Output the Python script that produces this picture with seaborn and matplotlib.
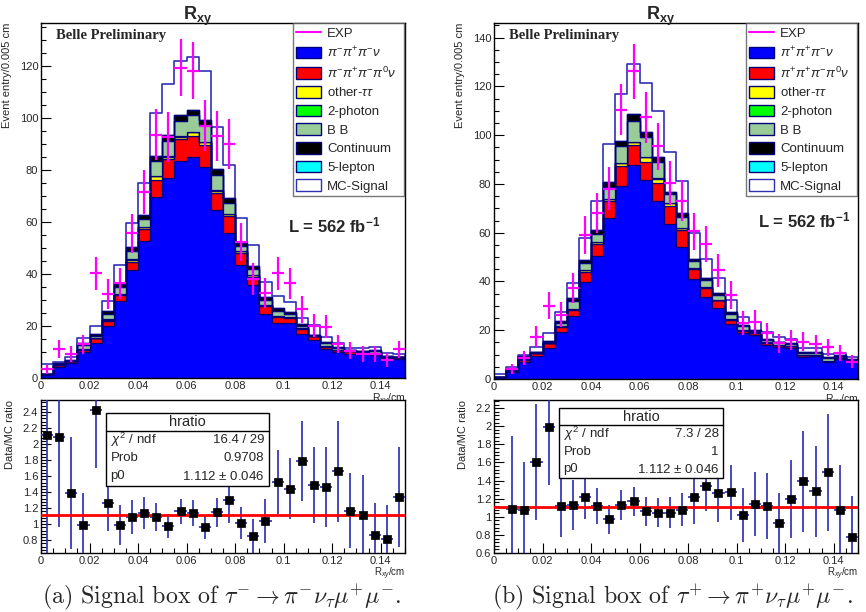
import numpy as np
import pandas as pd
import matplotlib
matplotlib.use("Agg")
import matplotlib.pyplot as plt
from matplotlib.patches import Patch, Rectangle
from matplotlib.lines import Line2D
from matplotlib.ticker import MultipleLocator, FuncFormatter
import seaborn as sns

# ---------------- data (30 bins of 0.005 cm, 0 .. 0.15) ----------------
bin_width = 0.005
n_bins = 30

# left panel: tau- -> pi- nu mu+ mu-
L_pi3 = [1.3, 4.4, 5.9, 10.1, 13.6, 20.1, 29.7, 41.5, 52.8, 69.7, 76.8, 83.5, 85.1, 81.3, 64.5,
         55.9, 43.5, 35.8, 24.6, 21.3, 21.0, 16.9, 14.6, 11.2, 9.9, 9.2, 9.1, 8.8, 6.9, 7.3]
L_pi3pi0 = [0.1, 0.6, 0.5, 0.7, 1.7, 1.7, 2.2, 3.2, 4.4, 6.5, 7.3, 8.3, 8.0, 8.1, 6.5,
            6.2, 4.7, 3.2, 3.1, 2.0, 2.0, 2.1, 1.6, 0.8, 0.9, 1.1, 0.7, 0.7, 0.9, 0.6]
L_othertt = [0.0, 0.1, 0.1, 0.3, 0.2, 0.6, 0.5, 0.8, 0.8, 1.5, 1.0, 1.0, 1.5, 1.4, 1.0,
             0.8, 0.6, 0.5, 0.4, 0.4, 0.3, 0.2, 0.05, 0.3, 0.1, 0.1, 0.1, 0.1, 0.1, 0.0]
L_2photon = [0.0, 0.0, 0.0, 0.0, 0.0, 0.1, 0.0, 0.1, 0.1, 0.1, 0.1, 0.1, 0.1, 0.1, 0.1,
             0.0, 0.0, 0.0, 0.0, 0.0, 0.0, 0.0, 0.0, 0.0, 0.0, 0.0, 0.0, 0.0, 0.0, 0.0]
L_BB = [0.1, 0.3, 0.2, 1.5, 0.8, 2.3, 2.4, 3.3, 3.1, 5.6, 6.1, 6.1, 6.4, 6.3, 6.1,
        4.4, 2.0, 2.4, 1.9, 2.0, 1.4, 0.9, 0.15, 1.1, 0.7, 0.2, 0.4, 0.8, 0.4, 0.2]
L_cont = [0.1, 0.2, 0.2, 0.8, 0.5, 1.0, 1.2, 1.6, 1.5, 2.0, 2.2, 2.2, 2.0, 2.0, 2.0,
          1.8, 1.0, 1.2, 1.0, 1.1, 0.8, 0.6, 0.1, 0.6, 0.4, 0.2, 0.2, 0.4, 0.2, 0.1]
L_5lep = [0.0] * 30
L_signal = [3.8, 0.6, 1.1, 1.9, 3.3, 3.7, 7.5, 9.0, 12.4, 16.6, 19.5, 20.7, 20.5, 19.0, 16.2,
            12.8, 9.9, 8.1, 6.0, 4.9, 3.9, 2.3, 3.9, 1.9, 1.3, 0.9, 0.9, 1.0, 1.0, 0.9]
L_data = [3.3, 11.2, 9.3, 13.0, 40.3, 32.3, 36.4, 55.6, 71.7, 93.6, 92.8, 119.3, 118.2, 97.0, 93.2,
          90.0, 52.4, 38.0, 32.6, 40.3, 36.4, 26.4, 20.1, 19.7, 13.1, 10.5, 9.2, 9.2, 6.9, 11.0]
L_ratio = [2.11, 2.09, 1.39, 0.99, 2.43, 1.27, 0.99, 1.09, 1.14, 1.09, 0.98, 1.16, 1.14, 0.97, 1.15,
           1.30, 1.01, 0.85, 1.04, 1.53, 1.44, 1.79, 1.49, 1.46, 1.66, 1.17, 1.115, 0.865, 0.82, 1.34]
L_ratio_err = [1.6, 1.12, 0.7, 0.4, 0.73, 0.36, 0.25, 0.21, 0.2, 0.18, 0.15, 0.16, 0.16, 0.15, 0.18,
               0.28, 0.2, 0.22, 0.27, 0.4, 0.38, 0.5, 0.47, 0.5, 0.63, 0.47, 0.5, 0.4, 0.42, 0.62]
L_fit = 1.112
L_stats = [("$\\chi^2$ / ndf", "16.4 / 29"), ("Prob", "0.9708"), ("p0", "1.112 $\\pm$ 0.046")]

# right panel: tau+ -> pi+ nu mu+ mu-
R_pi3 = [0.7, 3.0, 6.8, 9.4, 12.6, 19.4, 25.9, 39.9, 50.5, 66.0, 79.3, 87.6, 81.7, 73.2, 63.4,
         54.3, 41.1, 33.5, 29.0, 22.6, 18.8, 18.1, 14.0, 13.0, 12.6, 9.2, 9.4, 7.1, 8.1, 7.0]
R_pi3pi0 = [0.1, 0.4, 1.0, 1.1, 2.1, 2.1, 2.4, 3.8, 4.9, 6.8, 7.9, 8.2, 7.3, 7.2, 7.4,
            6.8, 3.9, 3.7, 3.2, 1.6, 1.0, 0.9, 0.9, 1.0, 1.0, 0.7, 0.5, 0.1, 0.7, 0.1]
R_othertt = [0.0, 0.1, 0.2, 0.1, 0.1, 0.3, 0.5, 0.8, 0.6, 1.0, 1.4, 1.5, 2.0, 1.8, 1.4,
             0.7, 0.5, 0.4, 0.3, 0.3, 0.2, 0.1, 0.1, 0.1, 0.1, 0.1, 0.1, 0.2, 0.1, 0.1]
R_2photon = [0.0, 0.0, 0.0, 0.0, 0.0, 0.0, 0.1, 0.1, 0.1, 0.1, 0.1, 0.1, 0.1, 0.1, 0.0,
             0.0, 0.0, 0.0, 0.0, 0.0, 0.0, 0.0, 0.0, 0.0, 0.0, 0.0, 0.0, 0.0, 0.0, 0.0]
R_BB = [0.05, 0.3, 1.0, 0.3, 0.4, 1.3, 3.0, 3.0, 3.5, 4.7, 6.8, 8.5, 8.0, 6.6, 3.5,
        4.8, 2.7, 2.8, 1.9, 2.3, 1.6, 0.7, 0.9, 0.9, 0.7, 0.8, 0.8, 1.2, 0.5, 0.7]
R_cont = [0.05, 0.2, 0.6, 0.1, 0.2, 0.5, 1.2, 1.3, 1.5, 2.0, 2.2, 2.8, 2.2, 2.0, 1.0,
          1.5, 1.0, 1.0, 0.8, 0.8, 0.6, 0.3, 0.4, 0.3, 0.3, 0.4, 0.4, 0.6, 0.3, 0.3]
R_5lep = [0.0] * 30
R_signal = [1.0, 0.8, 0.3, 2.0, 3.4, 4.0, 6.2, 8.9, 12.1, 15.9, 19.3, 20.5, 20.1, 18.9, 16.4,
            12.9, 10.6, 7.8, 6.2, 4.8, 3.4, 3.4, 2.9, 2.1, 1.6, 1.4, 1.4, 0.9, 0.8, 0.7]
R_data = [0.0, 4.1, 8.5, 17.4, 30.0, 26.3, 37.3, 59.1, 68.0, 78.0, 110.5, 126.2, 107.3, 95.4, 80.4,
          73.2, 60.5, 55.3, 44.5, 34.5, 22.9, 23.3, 18.8, 14.7, 16.0, 15.3, 14.2, 13.0, 10.5, 7.1]
R_ratio = [np.nan, 1.09, 1.08, 1.61, 1.99, 1.12, 1.13, 1.22, 1.12, 0.975, 1.13, 1.17, 1.06, 1.045, 1.045,
           1.08, 1.22, 1.34, 1.26, 1.27, 1.02, 1.14, 1.12, 0.93, 1.20, 1.39, 1.28, 1.49, 1.07, 0.78]
R_ratio_err = [np.nan, 0.8, 0.53, 0.64, 0.64, 0.34, 0.28, 0.24, 0.2, 0.16, 0.17, 0.16, 0.16, 0.16, 0.17,
               0.18, 0.3, 0.28, 0.32, 0.3, 0.3, 0.35, 0.36, 0.33, 0.43, 0.56, 0.5, 0.65, 0.5, 0.45]
R_fit = 1.112
R_stats = [("$\\chi^2$ / ndf", "7.3 / 28"), ("Prob", "1"), ("p0", "1.112 $\\pm$ 0.046")]

comp_names = ["pi3", "pi3pi0", "other", "2photon", "BB", "cont", "5lep"]
L_labels = ["EXP", r"$\pi^{-}\pi^{+}\pi^{-}\nu$", r"$\pi^{-}\pi^{+}\pi^{-}\pi^{0}\nu$", r"other-$\tau\tau$",
            "2-photon", "B B", "Continuum", "5-lepton", "MC-Signal"]
R_labels = ["EXP", r"$\pi^{+}\pi^{+}\pi^{-}\nu$", r"$\pi^{+}\pi^{+}\pi^{-}\pi^{0}\nu$", r"other-$\tau\tau$",
            "2-photon", "B B", "Continuum", "5-lepton", "MC-Signal"]

# ---------------- style ----------------
sns.set_theme(style="ticks")
plt.rcParams["font.family"] = ["Liberation Sans", "DejaVu Sans"]
plt.rcParams["mathtext.fontset"] = "custom"
plt.rcParams["mathtext.rm"] = "Liberation Sans"
plt.rcParams["mathtext.it"] = "Liberation Sans:italic"
plt.rcParams["mathtext.bf"] = "Liberation Sans:bold"
plt.rcParams["axes.linewidth"] = 1.0
plt.rcParams["axes.edgecolor"] = "black"

MAG = "#ff00ff"
NAVY = "#00007a"
SIGEDGE = "#3030b4"
ERRBLUE = "#2a2ab4"
comp_colors = ["#0000ff", "#ff0000", "#ffff00", "#00ff00", "#99cc99", "#000000", "#00ffff"]

edges = list(np.arange(n_bins + 1) * bin_width)
centers = np.arange(n_bins) * bin_width + bin_width / 2

W, H = 866, 612
fig = plt.figure(figsize=(W / 100, H / 100), dpi=100)


def fbox(x0, y0, x1, y1):
    return [x0 / W, 1 - y1 / H, (x1 - x0) / W, (y1 - y0) / H]


def style_axes(ax):
    ax.tick_params(axis="both", which="both", direction="in", top=False, right=False,
                   labelsize=8, pad=2, color="black")
    ax.tick_params(which="major", length=7, width=0.8)
    ax.tick_params(which="minor", length=3.5, width=0.8)
    for s in ax.spines.values():
        s.set_visible(True)
        s.set_color("black")
        s.set_linewidth(1.0)
    ax.set_xlim(0, 0.15)
    ax.xaxis.set_major_locator(MultipleLocator(0.02))
    ax.xaxis.set_minor_locator(MultipleLocator(0.005))
    ax.xaxis.set_major_formatter(FuncFormatter(lambda v, p: f"{v:g}"))


def draw_top(ax, comps, signal, data, labels, ymax, lx, ly):
    stack_total = np.sum(np.array(comps), axis=0)
    total = stack_total + np.array(signal)
    # MC-signal drawn on top of the stack (white with blue outline)
    dft = pd.DataFrame({"x": centers, "w": total})
    sns.histplot(data=dft, x="x", weights="w", bins=edges, element="step", fill=True,
                 color="white", edgecolor=SIGEDGE, linewidth=1.2, alpha=1, ax=ax)
    rows = []
    for name, vals in zip(comp_names, comps):
        for c, v in zip(centers, vals):
            rows.append((c, v, name))
    df = pd.DataFrame(rows, columns=["x", "w", "comp"])
    sns.histplot(data=df, x="x", weights="w", hue="comp", hue_order=comp_names[::-1],
                 multiple="stack", bins=edges, element="step", palette=dict(zip(comp_names, comp_colors)),
                 edgecolor=NAVY, linewidth=0.9, alpha=1, legend=False, ax=ax)
    d = np.array(data)
    m = d > 0
    ax.errorbar(centers[m], d[m], xerr=bin_width / 2, yerr=np.sqrt(d[m]), fmt="none",
                ecolor=MAG, elinewidth=1.6, capsize=0, zorder=6)
    style_axes(ax)
    ax.set_ylim(0, ymax)
    ax.yaxis.set_major_locator(MultipleLocator(20))
    ax.yaxis.set_minor_locator(MultipleLocator(5))
    ax.yaxis.set_major_formatter(FuncFormatter(lambda v, p: f"{v:g}"))
    ax.set_ylabel("Event entry/0.005 cm", fontsize=8, loc="top")
    ax.yaxis.set_label_coords(-29 / 364, 1.0)
    ax.set_xlabel(r"R$_{xy}$/cm", fontsize=7.5, loc="right")
    ax.xaxis.set_label_coords(1.0, -0.037)
    ax.text(0.041, 0.983, "Belle Preliminary", transform=ax.transAxes, ha="left", va="top",
            fontsize=10.5, fontweight="bold", family="Liberation Serif")
    ax.text(lx, ly, r"L = 562 fb$^{\mathbf{-1}}$", transform=ax.transAxes, ha="left", va="center",
            fontsize=12, fontweight="bold")
    handles = [Line2D([0], [0], color=MAG, lw=1.5)]
    handles += [Patch(facecolor=c, edgecolor=NAVY, linewidth=1.0) for c in comp_colors]
    handles += [Patch(facecolor="white", edgecolor=SIGEDGE, linewidth=1.0)]
    leg = ax.legend(handles, labels, loc="upper left", bbox_to_anchor=(0.692, 0.0, 0.305, 1.0),
                    mode="expand", frameon=True, fancybox=False, fontsize=9.5, handlelength=1.9,
                    handleheight=1.0, labelspacing=0.40, borderpad=0.25, handletextpad=0.45,
                    borderaxespad=0.0)
    leg.get_frame().set_edgecolor("#555555")
    leg.get_frame().set_linewidth(1.0)
    leg.set_zorder(10)


def draw_ratio(ax, ratio, err, fit, stats, ylim, box):
    r = np.array(ratio, dtype=float)
    e = np.array(err, dtype=float)
    m = ~np.isnan(r)
    ax.axhline(fit, color="#ff0000", lw=2.0, zorder=4)
    ax.errorbar(centers[m], r[m], xerr=bin_width / 2, yerr=e[m], fmt="none", ecolor=ERRBLUE,
                elinewidth=1.2, capsize=0, zorder=3)
    sns.scatterplot(x=centers[m], y=r[m], marker="s", s=34, color="black", edgecolor="black",
                    linewidth=0.5, ax=ax, zorder=6, legend=False)
    style_axes(ax)
    ax.set_ylim(*ylim)
    ax.yaxis.set_major_locator(MultipleLocator(0.2))
    ax.yaxis.set_minor_locator(MultipleLocator(0.04))
    ax.yaxis.set_major_formatter(FuncFormatter(lambda v, p: f"{v:g}"))
    ax.set_ylabel("Data/MC ratio", fontsize=8, loc="top")
    ax.yaxis.set_label_coords(-26 / 364, 1.0)
    ax.set_xlabel(r"R$_{xy}$/cm", fontsize=7, loc="right")
    ax.xaxis.set_label_coords(1.0, -0.08)
    x0, x1, y0, y1, yh = box
    ax.add_patch(Rectangle((x0, y0), x1 - x0, y1 - y0, transform=ax.transAxes, facecolor="white",
                           edgecolor="black", lw=1.0, zorder=8))
    ax.plot([x0, x1], [yh, yh], transform=ax.transAxes, color="black", lw=1.0, zorder=9)
    ax.text((x0 + x1) / 2, (yh + y1) / 2, "hratio", transform=ax.transAxes, ha="center",
            va="center", fontsize=10.5, zorder=9)
    rh = (yh - y0) / 3
    for i, (k, v) in enumerate(stats):
        yy = yh - rh * (i + 0.5)
        ax.text(x0 + 0.012, yy, k, transform=ax.transAxes, ha="left", va="center", fontsize=9.5, zorder=9)
        ax.text(x1 - 0.012, yy, v, transform=ax.transAxes, ha="right", va="center", fontsize=9.5, zorder=9)


# axes
axL = fig.add_axes(fbox(41, 23, 405, 378))
axLr = fig.add_axes(fbox(41, 400, 405, 553))
axR = fig.add_axes(fbox(494, 23, 858, 379))
axRr = fig.add_axes(fbox(494, 400, 858, 553))

L_comps = [L_pi3, L_pi3pi0, L_othertt, L_2photon, L_BB, L_cont, L_5lep]
R_comps = [R_pi3, R_pi3pi0, R_othertt, R_2photon, R_BB, R_cont, R_5lep]

draw_top(axL, L_comps, L_signal, L_data, L_labels, 136.5, 0.679, 0.431)
draw_top(axR, R_comps, R_signal, R_data, R_labels, 146.0, 0.725, 0.444)
draw_ratio(axLr, L_ratio, L_ratio_err, L_fit, L_stats, (0.64, 2.55), (0.179, 0.626, 0.44, 0.917, 0.80))
draw_ratio(axRr, R_ratio, R_ratio_err, R_fit, R_stats, (0.6, 2.29), (0.179, 0.63, 0.488, 0.946, 0.837))

# titles
for xc in (198, 661):
    fig.text(xc / W, 1 - 16 / H, r"$\mathbf{R_{xy}}$", ha="center", va="center", fontsize=13)

# captions
fig.text(222 / W, 1 - 604 / H, r"(a) Signal box of $\tau^{-} \rightarrow \pi^{-}\nu_{\tau}\mu^{+}\mu^{-}$.",
         ha="center", va="baseline", fontsize=17.2, family="cmr10", math_fontfamily="cm")
fig.text(672 / W, 1 - 604 / H, r"(b) Signal box of $\tau^{+} \rightarrow \pi^{+}\nu_{\tau}\mu^{+}\mu^{-}$.",
         ha="center", va="baseline", fontsize=17.2, family="cmr10", math_fontfamily="cm")

fig.savefig("out.png", dpi=100, facecolor="white")
